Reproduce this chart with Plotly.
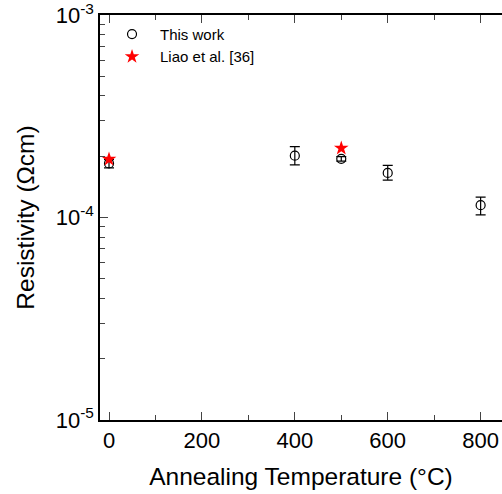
import math
import plotly.graph_objects as go

# Data
temps = [0, 400, 500, 600, 800]
rho = [1.85e-4, 2.02e-4, 1.95e-4, 1.66e-4, 1.15e-4]
err_plus = [0.08e-4, 0.22e-4, 0.05e-4, 0.15e-4, 0.11e-4]
err_minus = [0.09e-4, 0.20e-4, 0.05e-4, 0.13e-4, 0.12e-4]

liao_temps = [0, 500]
liao_rho = [1.94e-4, 2.20e-4]

ytick_vals = [1e-5, 1e-4, 1e-3]
ytick_text = ["10<sup>-5</sup>", "10<sup>-4</sup>", "10<sup>-3</sup>"]
xtick_vals = [0, 200, 400, 600, 800]

FONT = "Liberation Sans, Arial, sans-serif"

fig = go.Figure()
fig.add_trace(go.Scatter(
    x=temps, y=rho, mode="markers", name="This work",
    marker=dict(symbol="circle-open", size=9, color="black", line=dict(width=1.2, color="black")),
    error_y=dict(type="data", array=err_plus, arrayminus=err_minus, symmetric=False,
                 color="black", thickness=1.2, width=5),
))
fig.add_trace(go.Scatter(
    x=liao_temps, y=liao_rho, mode="markers", name="Liao et al. [36]",
    marker=dict(symbol="star", size=11, color="red", line=dict(width=0)),
))

fig.update_layout(
    width=502, height=494,
    margin=dict(l=100, r=0, t=15, b=74),
    paper_bgcolor="white", plot_bgcolor="white",
    font=dict(family=FONT, color="black", size=22),
    showlegend=True,
    legend=dict(x=0.01, y=0.993, xanchor="left", yanchor="top",
                font=dict(size=15, family=FONT), bgcolor="rgba(0,0,0,0)",
                itemwidth=46),
    xaxis=dict(
        range=[-19.4, 846], tickvals=xtick_vals, ticks="inside", ticklen=8, tickwidth=1.2,
        showline=True, linecolor="black", linewidth=1.5, mirror="allticks",
        showgrid=False, zeroline=False, automargin=False, ticklabeloverflow="allow",
        minor=dict(ticks="inside", ticklen=5, tickwidth=1.2, dtick=100, showgrid=False),
        title=dict(text="Annealing Temperature (°C)", font=dict(size=24.5), standoff=16),
        tickfont=dict(size=22),
    ),
    yaxis=dict(
        type="log", range=[math.log10(ytick_vals[0]) - 0.0005, math.log10(ytick_vals[-1]) + 0.0005],
        tickvals=ytick_vals, ticktext=ytick_text,
        ticks="inside", ticklen=8, tickwidth=1.2,
        showline=True, linecolor="black", linewidth=1.5, mirror=False,
        showgrid=False, zeroline=False, automargin=False, ticklabeloverflow="allow",
        minor=dict(ticks="inside", ticklen=5, tickwidth=1.2, dtick="D1", showgrid=False),
        title=dict(text="Resistivity (Ωcm)", font=dict(size=24.5), standoff=14),
        tickfont=dict(size=22),
    ),
)

fig.write_html(
    "out.html",
    config={"displayModeBar": False},
    post_script="document.body.style.margin='0';document.body.style.overflow='hidden';",
)
